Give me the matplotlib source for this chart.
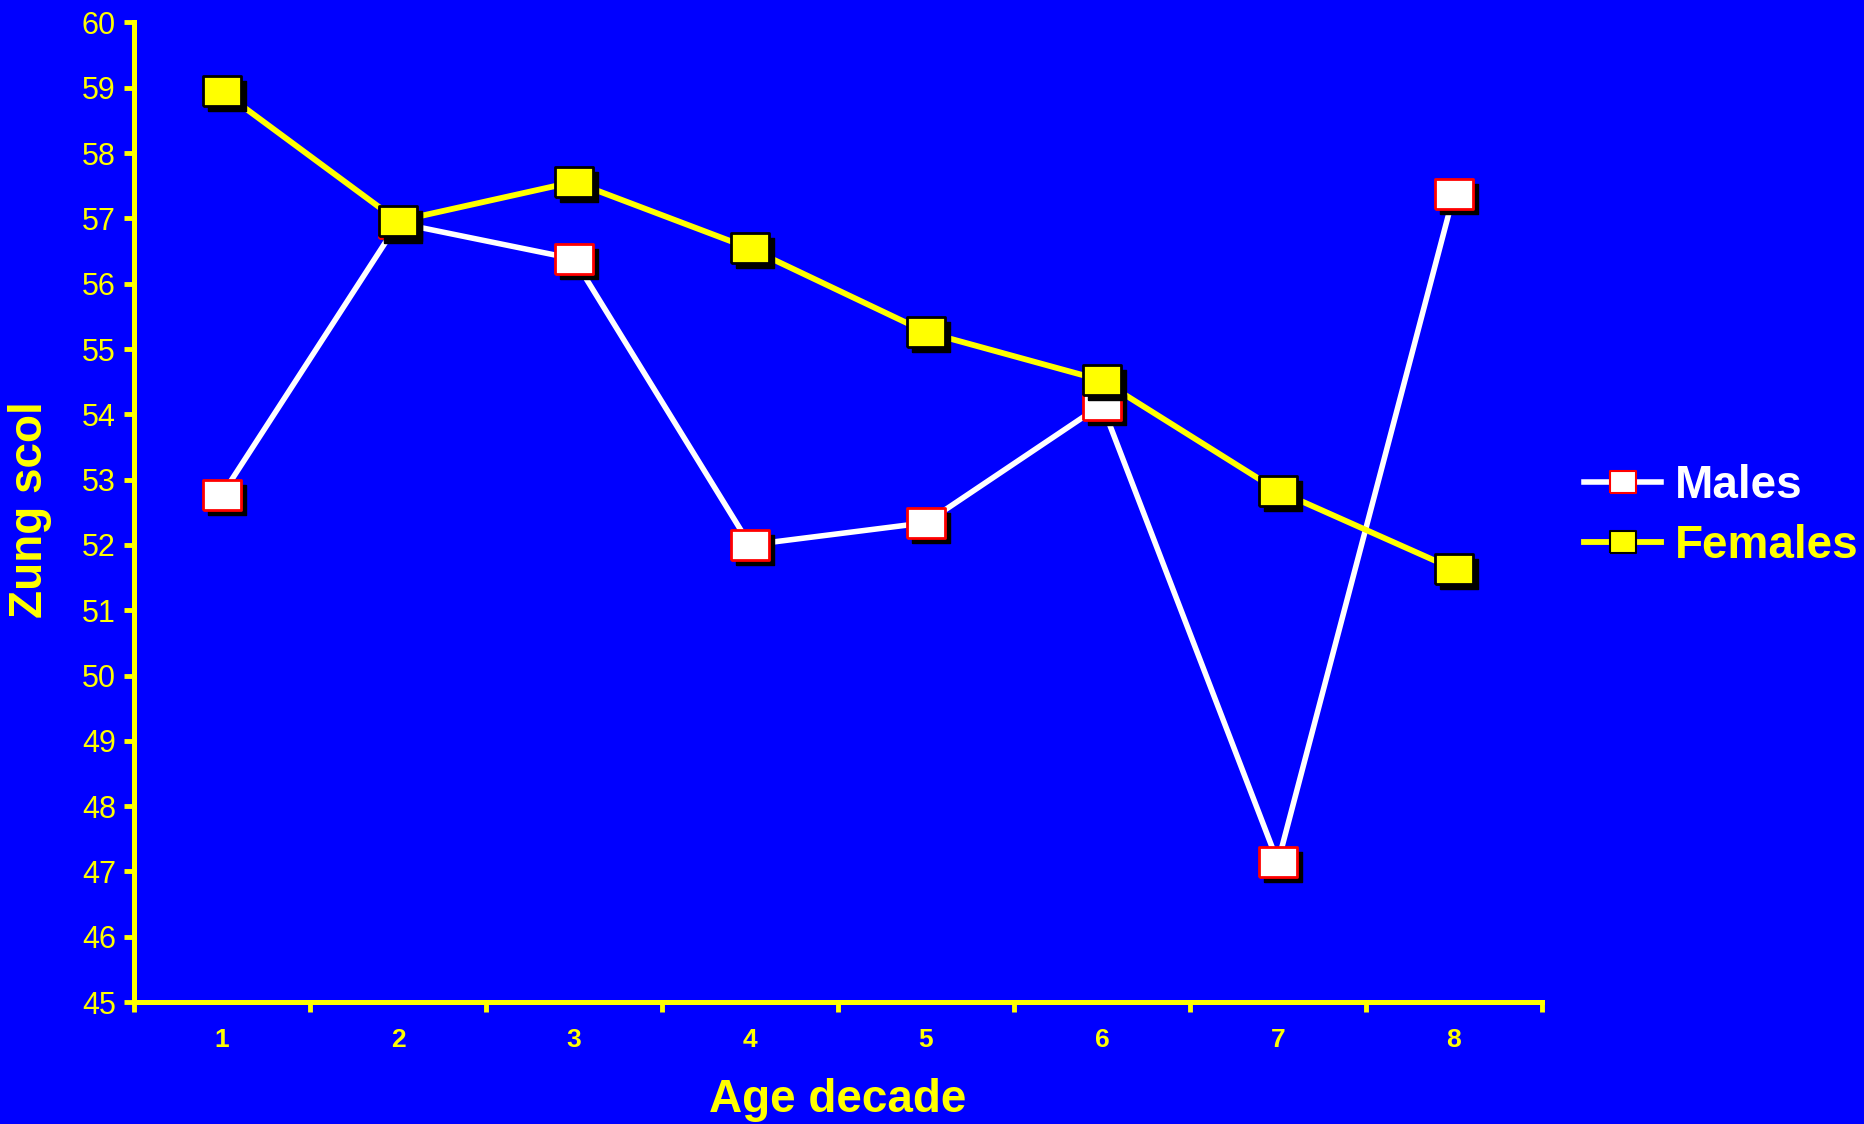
import numpy as np
import matplotlib
matplotlib.use('Agg')
import matplotlib.pyplot as plt
from matplotlib.transforms import offset_copy

plt.rcParams['font.family'] = ['Liberation Sans', 'DejaVu Sans']

decades = [1, 2, 3, 4, 5, 6, 7, 8]
males = [52.77, 56.93, 56.38, 52.0, 52.34, 54.15, 47.14, 57.37]
females = [58.95, 56.96, 57.56, 56.54, 55.26, 54.52, 52.83, 51.63]

BLUE = '#0000ff'
YEL = '#ffff00'

fig = plt.figure(figsize=(18.64, 11.24), dpi=100, facecolor=BLUE)
ax = fig.add_axes([0.0719, 0.1085, 0.7553, 0.8715], facecolor=BLUE)

# rectangular marker, a bit wider than tall
box = [(-1.0, -0.81), (1.0, -0.81), (1.0, 0.81), (-1.0, 0.81), (-1.0, -0.81)]
ms = 27
shadow = offset_copy(ax.transData, fig=fig, x=5, y=-5, units='dots')

x = np.array(decades)

# lines
ax.plot(x, males, color='white', lw=4, zorder=2)
ax.plot(x, females, color=YEL, lw=4.2, zorder=2)

# shadows + markers
ax.plot(x, males, ls='none', marker=box, ms=ms, mfc='black', mec='black',
        transform=shadow, zorder=3)
ax.plot(x, males, ls='none', marker=box, ms=ms, mfc='white', mec='red',
        mew=2, zorder=4)
ax.plot(x, females, ls='none', marker=box, ms=ms, mfc='black', mec='black',
        transform=shadow, zorder=5)
ax.plot(x, females, ls='none', marker=box, ms=ms, mfc=YEL, mec='black',
        mew=2, zorder=6)

# legend proxies (no shadow)
h1, = ax.plot([], [], color='white', lw=4, marker=box, ms=19, mfc='white',
              mec='red', mew=1.5, label='Males')
h2, = ax.plot([], [], color=YEL, lw=4.2, marker=box, ms=19, mfc=YEL,
              mec='black', mew=1.5, label='Females')

ax.set_xlim(0.5, 8.5)
ax.set_ylim(45, 60)
ax.set_yticks(np.arange(45, 61, 1))
ax.set_xticks(np.arange(0.5, 8.6, 1))
ax.set_xticklabels([])
ax.set_xticks(x, minor=True)
ax.set_xticklabels([str(d) for d in decades], minor=True,
                   fontsize=19, fontweight='bold', color=YEL)
ax.tick_params(axis='x', which='minor', length=0, pad=19)
ax.tick_params(axis='x', which='major', length=7, width=3.5, color=YEL,
               direction='out')
ax.tick_params(axis='y', length=7, width=3.5, color=YEL, labelcolor=YEL,
               labelsize=22, pad=6)

for s in ['top', 'right']:
    ax.spines[s].set_visible(False)
for s in ['left', 'bottom']:
    ax.spines[s].set_color(YEL)
    ax.spines[s].set_linewidth(3.6)

fig.text(0.4496, 0.021, 'Age decade', ha='center', va='center',
         fontsize=33, fontweight='bold', color=YEL)
fig.text(0.016, 0.547, 'Zung scol', ha='center', va='center', rotation=90,
         fontsize=33, fontweight='bold', color=YEL)

leg = fig.legend(handles=[h1, h2], loc='center left',
                 bbox_to_anchor=(0.850, 0.541), frameon=False,
                 prop={'size': 33, 'weight': 'bold'}, handlelength=1.67,
                 handletextpad=0.3, labelspacing=0.35, borderpad=0,
                 borderaxespad=0)
for t, c in zip(leg.get_texts(), ['white', YEL]):
    t.set_color(c)

fig.savefig('out.png', dpi=100, facecolor=BLUE)
